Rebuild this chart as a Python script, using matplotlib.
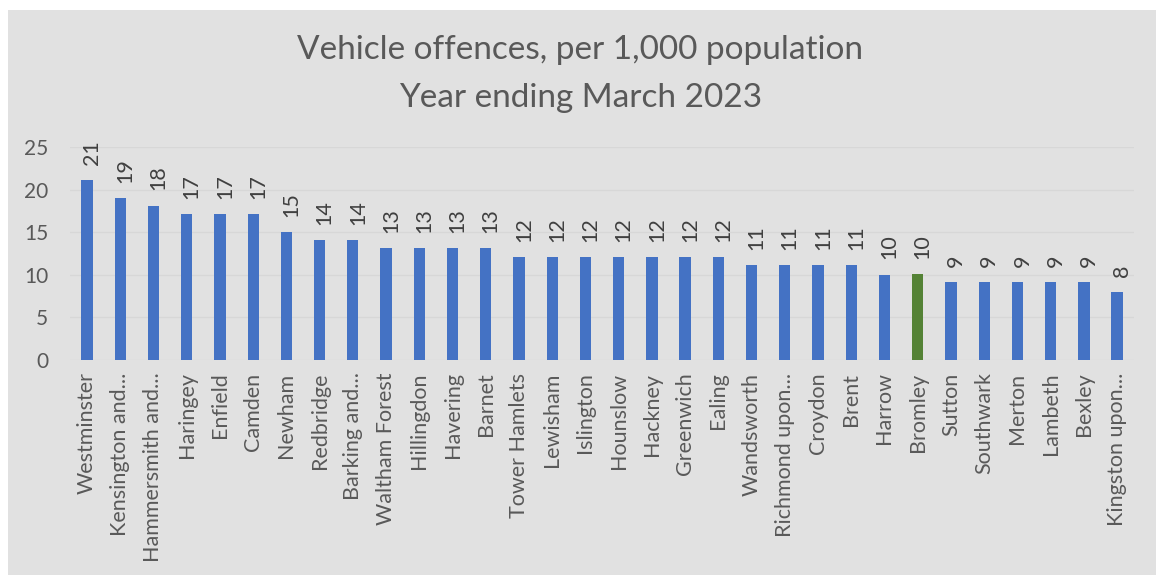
import matplotlib.pyplot as plt
from matplotlib.patches import Rectangle

boroughs = ['Westminster', 'Kensington and...', 'Hammersmith and...', 'Haringey', 'Enfield',
            'Camden', 'Newham', 'Redbridge', 'Barking and...', 'Waltham Forest', 'Hillingdon',
            'Havering', 'Barnet', 'Tower Hamlets', 'Lewisham', 'Islington', 'Hounslow',
            'Hackney', 'Greenwich', 'Ealing', 'Wandsworth', 'Richmond upon...', 'Croydon',
            'Brent', 'Harrow', 'Bromley', 'Sutton', 'Southwark', 'Merton', 'Lambeth',
            'Bexley', 'Kingston upon...']
offences = [21.1, 19.0, 18.1, 17.1, 17.1, 17.1, 15.0, 14.1, 14.1, 13.1, 13.1, 13.1, 13.1,
            12.1, 12.1, 12.1, 12.1, 12.1, 12.1, 12.1, 11.1, 11.1, 11.1, 11.1, 10.0, 10.1,
            9.1, 9.1, 9.1, 9.1, 9.1, 8.0]
labels = [21, 19, 18, 17, 17, 17, 15, 14, 14, 13, 13, 13, 13, 12, 12, 12, 12, 12, 12, 12,
          11, 11, 11, 11, 10, 10, 9, 9, 9, 9, 9, 8]

plt.rcParams['font.family'] = ['Lato', 'DejaVu Sans']
txt = '#595959'

fig = plt.figure(figsize=(11.56, 5.75), dpi=100, facecolor='white')
fig.patches.append(Rectangle((8 / 1156, 0), 1, 1 - 10 / 575, transform=fig.transFigure,
                             facecolor='#e1e1e1', edgecolor='none', zorder=-10))
ax = fig.add_axes([70.4 / 1156, 1 - 360 / 575, 1063.3 / 1156, 213 / 575])
ax.set_facecolor('none')

colors = ['#548235' if b == 'Bromley' else '#4472c4' for b in boroughs]
x = range(len(boroughs))
ax.bar(x, offences, width=0.34, color=colors, zorder=2)

for i, v in enumerate(offences):
    ax.text(i + 0.15, v + 1.8, str(labels[i]), rotation=90, ha='center', va='bottom',
            fontsize=15.5, color='#404040')

ax.set_xlim(-0.5, len(boroughs) - 0.5)
ax.set_ylim(0, 25)
ax.set_yticks([0, 5, 10, 15, 20, 25])
ax.grid(axis='y', color='#d7d7d7', linewidth=1, zorder=0)
ax.set_xticks(list(x))
ax.set_xticklabels(boroughs, rotation=90, fontsize=15.5, color=txt)
ax.tick_params(axis='y', labelsize=15, labelcolor=txt, length=0, pad=16)
ax.tick_params(axis='x', length=0, pad=9)
for s in ax.spines.values():
    s.set_visible(False)

fig.text(0.502, 1 - 50 / 575, 'Vehicle offences, per 1,000 population', ha='center',
         va='center', fontsize=24, color=txt)
fig.text(0.502, 1 - 98 / 575, 'Year ending March 2023', ha='center', va='center',
         fontsize=24, color=txt)

fig.savefig('out.png', dpi=100, facecolor=fig.get_facecolor())
